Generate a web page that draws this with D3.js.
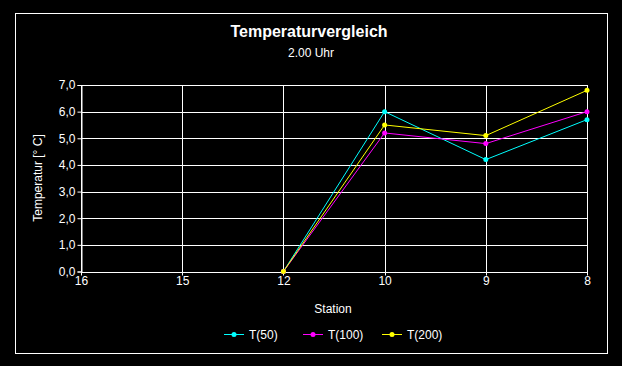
<!DOCTYPE html>
<html>
<head>
<meta charset="utf-8">
<script src="https://cdn.jsdelivr.net/npm/d3@7"></script>
<style>
  body { margin: 0; background: #000; }
  svg { display: block; font-family: "Liberation Sans", Arial, sans-serif; }
</style>
</head>
<body>
<div id="chart"></div>
<script>
// stations (x categories), left to right
var stations = ["16", "15", "12", "10", "9", "8"];
var yTicks = [0, 1, 2, 3, 4, 5, 6, 7];
var seriesNames = ["T(50)", "T(100)", "T(200)"];
var seriesColors = ["#00ffff", "#ff00ff", "#ffff00"];
// null = no value at that station
var t50 = [null, null, 0, 6.0, 4.2, 5.7];
var t100 = [null, null, 0, 5.2, 4.8, 6.0];
var t200 = [null, null, 0, 5.5, 5.1, 6.8];
var seriesValues = [t50, t100, t200];

var W = 622, H = 366;
var margin = { top: 85, right: 35, bottom: 95, left: 81 },
  width = 587 - margin.left,
  height = 271.5 - margin.top;

var svg = d3.select("#chart")
  .append("svg")
    .attr("width", W)
    .attr("height", H);

svg.append("rect")
  .attr("width", W).attr("height", H)
  .attr("fill", "#000");

// outer frame
svg.append("rect")
  .attr("x", 15.5).attr("y", 13.5)
  .attr("width", 592).attr("height", 340)
  .attr("fill", "none")
  .attr("stroke", "#fff")
  .attr("stroke-width", 1);

svg.append("text")
  .attr("x", 309).attr("y", 37)
  .attr("text-anchor", "middle")
  .attr("fill", "#fff")
  .attr("font-size", "16px")
  .attr("font-weight", "bold")
  .text("Temperaturvergleich");

svg.append("text")
  .attr("x", 311).attr("y", 57)
  .attr("text-anchor", "middle")
  .attr("fill", "#fff")
  .attr("font-size", "12px")
  .text("2.00 Uhr");

var g = svg.append("g")
  .attr("transform", "translate(" + margin.left + "," + margin.top + ")");

var x = d3.scalePoint()
  .domain(stations)
  .range([0, width]);

var y = d3.scaleLinear()
  .domain([0, 7])
  .range([height, 0]);

// grid
g.selectAll(".hgrid")
  .data(yTicks)
  .enter()
  .append("line")
    .attr("x1", 0).attr("x2", width)
    .attr("y1", function (d) { return Math.round(y(d)) + 0.5 })
    .attr("y2", function (d) { return Math.round(y(d)) + 0.5 })
    .attr("stroke", "#fff");

g.selectAll(".vgrid")
  .data(stations)
  .enter()
  .append("line")
    .attr("x1", function (d) { return Math.round(x(d)) + 0.5 })
    .attr("x2", function (d) { return Math.round(x(d)) + 0.5 })
    .attr("y1", 0).attr("y2", height + 4)
    .attr("stroke", "#fff");

// y axis
var yAxis = g.append("g")
  .attr("transform", "translate(0.5,0)")
  .call(d3.axisLeft(y)
    .tickValues(yTicks)
    .tickSize(4)
    .tickPadding(2)
    .tickFormat(function (d) { return d3.format(".1f")(d).replace(".", ",") }));
yAxis.select(".domain").attr("stroke", "#fff");
yAxis.selectAll(".tick line").attr("stroke", "#fff");
yAxis.selectAll(".tick text")
  .attr("fill", "#fff")
  .attr("font-size", "12px")
  .attr("font-family", "Liberation Sans, Arial, sans-serif");

// x axis labels
var xAxis = g.append("g")
  .attr("transform", "translate(0," + (height + 0.5) + ")")
  .call(d3.axisBottom(x).tickSize(0).tickPadding(4));
xAxis.select(".domain").remove();
xAxis.selectAll(".tick text")
  .attr("fill", "#fff")
  .attr("font-size", "12px")
  .attr("font-family", "Liberation Sans, Arial, sans-serif");

svg.append("text")
  .attr("x", 333).attr("y", 313)
  .attr("text-anchor", "middle")
  .attr("fill", "#fff")
  .attr("font-size", "12px")
  .text("Station");

svg.append("text")
  .attr("transform", "translate(42,178) rotate(-90)")
  .attr("text-anchor", "middle")
  .attr("fill", "#fff")
  .attr("font-size", "12px")
  .text("Temperatur [° C]");

// series
var line = d3.line()
  .defined(function (d) { return d != null })
  .x(function (d, i) { return x(stations[i]) })
  .y(function (d) { return y(d) });

seriesValues.forEach(function (vals, k) {
  g.append("path")
    .datum(vals)
    .attr("d", line)
    .attr("fill", "none")
    .attr("stroke", seriesColors[k])
    .attr("stroke-width", 1);
  g.selectAll(".pt" + k)
    .data(vals.map(function (v, i) { return { v: v, s: stations[i] } })
      .filter(function (d) { return d.v != null }))
    .enter()
    .append("circle")
      .attr("cx", function (d) { return x(d.s) })
      .attr("cy", function (d) { return y(d.v) })
      .attr("r", 2.5)
      .attr("fill", seriesColors[k]);
});

// legend
var legendX = [224, 303, 382];
var legend = svg.selectAll(".leg")
  .data(seriesNames)
  .enter()
  .append("g")
    .attr("transform", function (d, i) { return "translate(" + legendX[i] + ",334.5)" });
legend.append("line")
  .attr("x1", 0).attr("x2", 20)
  .attr("stroke", function (d, i) { return seriesColors[i] });
legend.append("circle")
  .attr("cx", 10).attr("r", 2.5)
  .attr("fill", function (d, i) { return seriesColors[i] });
legend.append("text")
  .attr("x", 25).attr("y", 4.5)
  .attr("fill", "#fff")
  .attr("font-size", "12px")
  .text(function (d) { return d });
</script>
</body>
</html>
